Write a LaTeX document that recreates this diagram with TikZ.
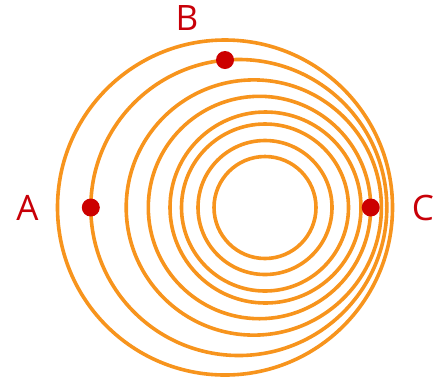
\documentclass[tikz,border=0pt]{standalone}
\usepackage{fontspec}
\setmainfont{Open Sans}
\definecolor{ringorange}{RGB}{247,148,29}
\definecolor{dotred}{RGB}{204,0,0}
\definecolor{lblred}{RGB}{200,0,8}
\begin{document}
\begin{tikzpicture}[x=1pt,y=-1pt,
  ring/.style={draw=ringorange,line width=3.6pt},
  dotmark/.style={circle,fill=dotred,inner sep=0pt,minimum size=18pt},
  lbl/.style={text=lblred,font=\fontsize{35}{35}\selectfont,inner sep=0pt}]
\useasboundingbox (0,0) rectangle (443,376);
\draw[ring] (265,207.5) circle[radius=51];
\draw[ring] (265,207.5) circle[radius=67];
\draw[ring] (265,207.5) circle[radius=83.5];
\draw[ring] (265.5,207.5) circle[radius=95.5];
\draw[ring] (259.5,207.5) circle[radius=111.2];
\draw[ring] (253.8,207.5) circle[radius=127.6];
\draw[ring] (238.8,207.5) circle[radius=148];
\draw[ring] (225,207.5) circle[radius=167.5];
\node[dotmark] (dA) at (90.8,207.5) {};
\node[dotmark] (dB) at (225,60) {};
\node[dotmark] (dC) at (370.7,207.5) {};
\node[lbl] (A) at (27.5,207.5) {A};
\node[lbl] (B) at (187,18.5) {B};
\node[lbl] (C) at (423,207.5) {C};
\end{tikzpicture}
\end{document}
